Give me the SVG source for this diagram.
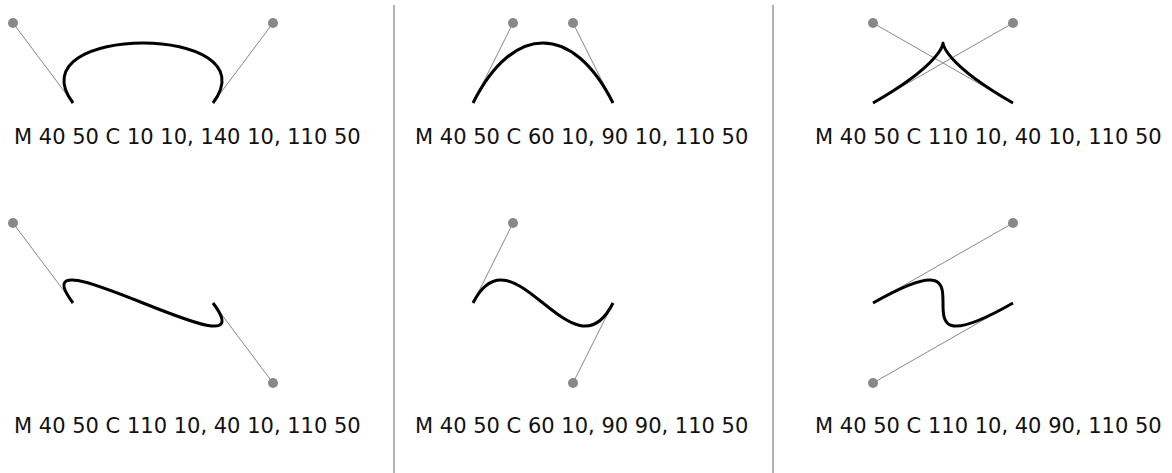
<svg xmlns="http://www.w3.org/2000/svg" width="1172" height="473" viewBox="0 0 1172 473">
<style>
.curve{fill:none;stroke:#000;stroke-width:1.5}
.ctl{fill:none;stroke:#888;stroke-width:0.5}
.pt{fill:#888}
.lbl{font-family:"DejaVu Sans",Verdana,sans-serif;font-size:21px;fill:#111}
.div{stroke:#999;stroke-width:1.5}
</style>
<rect width="1172" height="473" fill="#fff"/>
<g id="dividers">
<line class="div" x1="394" y1="5" x2="394" y2="473"/>
<line class="div" x1="773" y1="5" x2="773" y2="473"/>
</g>
<g id="panel-1">
<g transform="translate(-7,3) scale(2)">
<path class="ctl" d="M40 50 L10 10 M110 50 L140 10"/>
<circle class="pt" cx="10" cy="10" r="2.5"/><circle class="pt" cx="140" cy="10" r="2.5"/>
<path class="curve" d="M40 50 C10 10, 140 10, 110 50"/>
</g>
<text class="lbl" x="14" y="144">M 40 50 C 10 10, 140 10, 110 50</text>
</g>
<g id="panel-2">
<g transform="translate(393,3) scale(2)">
<path class="ctl" d="M40 50 L60 10 M110 50 L90 10"/>
<circle class="pt" cx="60" cy="10" r="2.5"/><circle class="pt" cx="90" cy="10" r="2.5"/>
<path class="curve" d="M40 50 C60 10, 90 10, 110 50"/>
</g>
<text class="lbl" x="415" y="144">M 40 50 C 60 10, 90 10, 110 50</text>
</g>
<g id="panel-3">
<g transform="translate(793,3) scale(2)">
<path class="ctl" d="M40 50 L110 10 M110 50 L40 10"/>
<circle class="pt" cx="110" cy="10" r="2.5"/><circle class="pt" cx="40" cy="10" r="2.5"/>
<path class="curve" d="M40 50 C110 10, 40 10, 110 50"/>
</g>
<text class="lbl" x="815" y="144">M 40 50 C 110 10, 40 10, 110 50</text>
</g>
<g id="panel-4">
<g transform="translate(-7,203) scale(2)">
<path class="ctl" d="M40 50 L10 10 M110 50 L140 90"/>
<circle class="pt" cx="10" cy="10" r="2.5"/><circle class="pt" cx="140" cy="90" r="2.5"/>
<path class="curve" d="M40 50 C10 10, 140 90, 110 50"/>
</g>
<text class="lbl" x="14" y="433">M 40 50 C 110 10, 40 10, 110 50</text>
</g>
<g id="panel-5">
<g transform="translate(393,203) scale(2)">
<path class="ctl" d="M40 50 L60 10 M110 50 L90 90"/>
<circle class="pt" cx="60" cy="10" r="2.5"/><circle class="pt" cx="90" cy="90" r="2.5"/>
<path class="curve" d="M40 50 C60 10, 90 90, 110 50"/>
</g>
<text class="lbl" x="415" y="433">M 40 50 C 60 10, 90 90, 110 50</text>
</g>
<g id="panel-6">
<g transform="translate(793,203) scale(2)">
<path class="ctl" d="M40 50 L110 10 M110 50 L40 90"/>
<circle class="pt" cx="110" cy="10" r="2.5"/><circle class="pt" cx="40" cy="90" r="2.5"/>
<path class="curve" d="M40 50 C110 10, 40 90, 110 50"/>
</g>
<text class="lbl" x="815" y="433">M 40 50 C 110 10, 40 90, 110 50</text>
</g>
</svg>
